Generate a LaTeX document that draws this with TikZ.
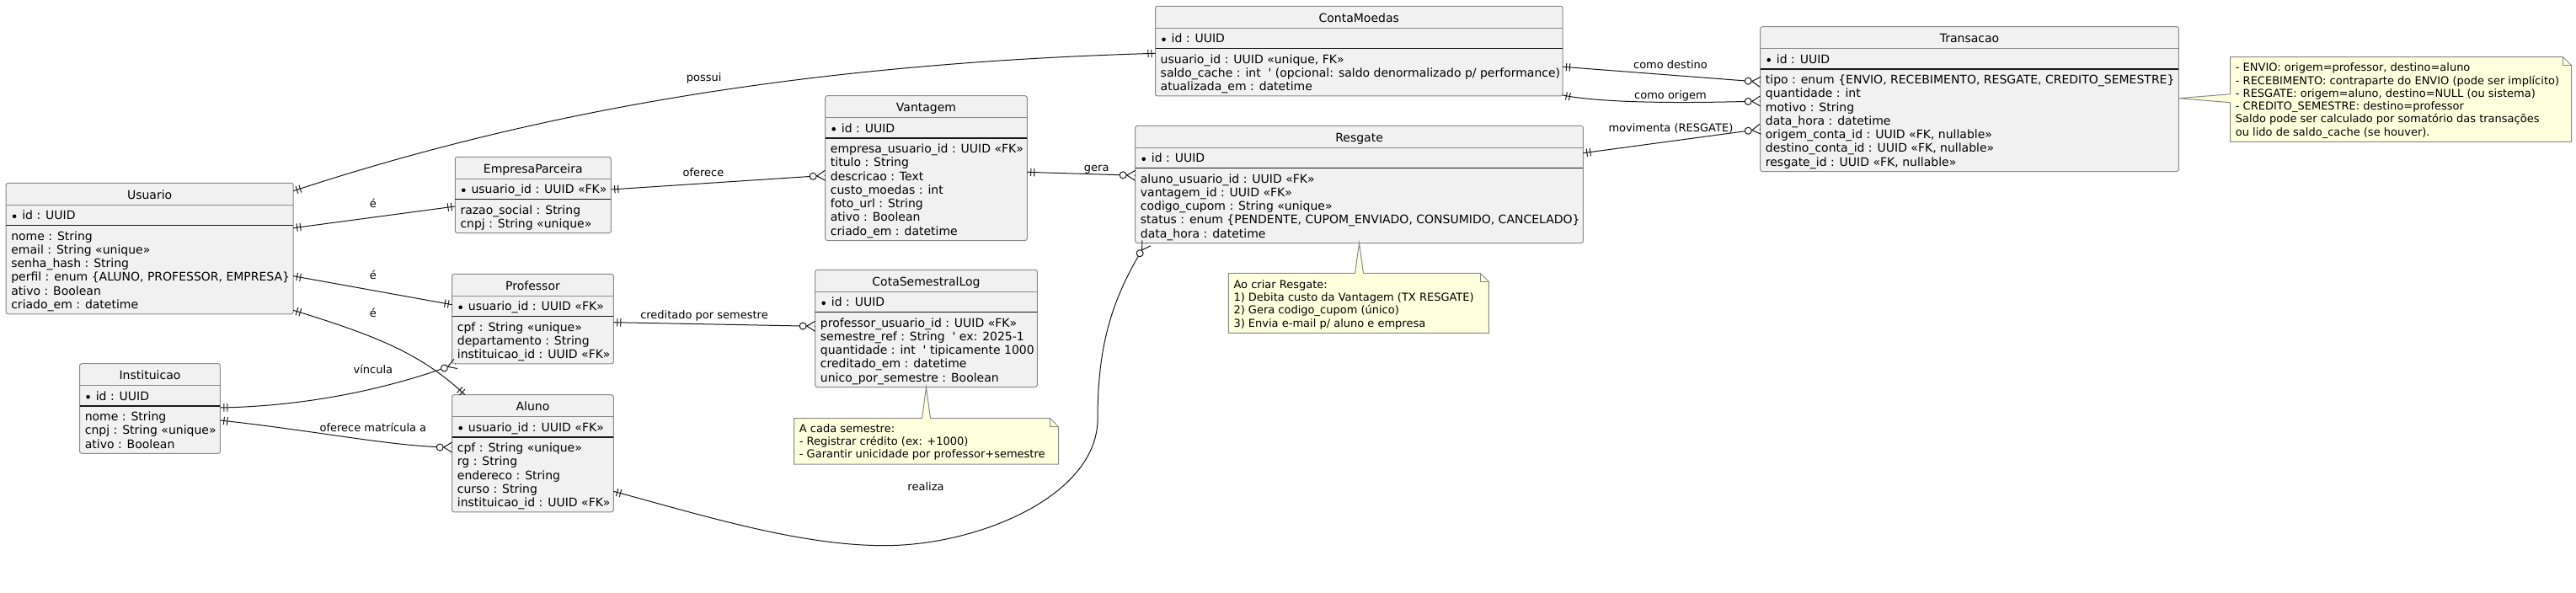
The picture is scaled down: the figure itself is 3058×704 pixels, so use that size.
\documentclass[tikz,border=0pt]{standalone}
\usepackage{fontspec}
\setmainfont{DejaVu Sans}[Ligatures=TeXOff]
\usetikzlibrary{decorations.markings}
\definecolor{entfill}{HTML}{F1F1F1}
\definecolor{entline}{HTML}{8A8A8A}
\definecolor{lc}{HTML}{181818}
\definecolor{notefill}{HTML}{FEFFDD}
\definecolor{noteline}{HTML}{8A8A8A}
\newcommand\entfont{\fontsize{14}{16.3}\selectfont}
\newcommand\notefont{\fontsize{13}{15.2}\selectfont}
\tikzset{
 entbox/.style={draw=entline, fill=entfill, line width=1pt, rounded corners=2.5pt, inner sep=0pt, outer sep=0pt},
 hdrline/.style={draw=entline, line width=1pt},
 sepline/.style={draw=lc, line width=1.3pt},
 etext/.style={font=\entfont, inner sep=0pt, text=black},
 ntext/.style={font=\notefont, inner sep=0pt, text=black, anchor=base west},
 lbl/.style={font=\notefont, inner sep=0pt, anchor=base, text=black},
 rel/.style={draw=lc, line width=1pt},
 notebox/.style={draw=noteline, fill=notefill, line width=1pt},
 ticksS/.style={postaction={decorate, decoration={markings, mark=at position 0 with {\draw[lc, line width=1pt] (4.5pt,-4.7pt)--(4.5pt,4.7pt) (8.5pt,-4.7pt)--(8.5pt,4.7pt);}}}},
 ticksE/.style={postaction={decorate, decoration={markings, mark=at position 0.99999 with {\draw[lc, line width=1pt] (-4.5pt,-4.7pt)--(-4.5pt,4.7pt) (-8.5pt,-4.7pt)--(-8.5pt,4.7pt);}}}},
 crowE/.style={postaction={decorate, decoration={markings, mark=at position 0.99999 with {\draw[white, line width=1.8pt] (-10pt,0pt)--(-1pt,0pt); \draw[lc, line width=1pt] (0pt,6pt)--(-10pt,0pt)--(0pt,-6pt); \draw[lc, line width=1pt, fill=white] (-14.5pt,0pt) circle (4pt);}}}},
}
% #1 name #2 left #3 top #4 right #5 n #6 title #7 id #8 attrs
\newcommand\entity[8]{%
 \pgfmathsetmacro\ew{#4-#2}%
 \pgfmathsetmacro\eh{57.7+16.3*#5}%
 \node[entbox, minimum width=\ew pt, minimum height=\eh pt, anchor=north west] (#1) at (#2,#3) {};
 \draw[hdrline] (#2,#3+25.8) -- (#4,#3+25.8);
 \draw[sepline] (#2,#3+50.3) -- (#4,#3+50.3);
 \node[etext, anchor=base] (#1-t) at ({(#2+#4)/2},{#3+18.7}) {#6};
 \fill[black] ({#2+10},{#3+39.5}) circle (2.3pt);
 \node[etext, anchor=base west] (#1-id) at ({#2+19},{#3+43.6}) {#7};
 \foreach \t [count=\i] in {#8} {\node[etext, anchor=base west] (#1-a\i) at ({#2+6},{#3+67.7+16.3*(\i-1)}) {\t};}
}
\begin{document}
\begin{tikzpicture}[x=1pt,y=-1pt]
\fill[white] (0,0) rectangle (3058,704);
\useasboundingbox (0,0) rectangle (3058,704);

\entity{us}{7.1}{217.3}{348.2}{6}{Usuario}{id : UUID}{nome : String, email : String «unique», senha\_hash : String, {perfil : enum \{ALUNO, PROFESSOR, EMPRESA\}}, ativo : Boolean, criado\_em : datetime}
\entity{in}{94.6}{431.7}{261.4}{3}{Instituicao}{id : UUID}{nome : String, cnpj : String «unique», ativo : Boolean}
\entity{ep}{540.3}{186.3}{725.3}{2}{EmpresaParceira}{usuario\_id : UUID «FK»}{razao\_social : String, cnpj : String «unique»}
\entity{pr}{536.7}{325.3}{728.3}{3}{Professor}{usuario\_id : UUID «FK»}{cpf : String «unique», departamento : String, instituicao\_id : UUID «FK»}
\entity{al}{536.7}{468.7}{728.3}{5}{Aluno}{usuario\_id : UUID «FK»}{cpf : String «unique», rg : String, endereco : String, curso : String, instituicao\_id : UUID «FK»}
\entity{va}{979.7}{113.7}{1219.3}{7}{Vantagem}{id : UUID}{empresa\_usuario\_id : UUID «FK», titulo : String, descricao : Text, custo\_moedas : int, foto\_url : String, ativo : Boolean, criado\_em : datetime}
\entity{cs}{967.7}{320.3}{1231.3}{5}{CotaSemestralLog}{id : UUID}{professor\_usuario\_id : UUID «FK», semestre\_ref : String\ \ ' ex: 2025-1, quantidade : int\ \ ' tipicamente 1000, creditado\_em : datetime, unico\_por\_semestre : Boolean}
\entity{cm}{1371.5}{7.3}{1855}{3}{ContaMoedas}{id : UUID}{{usuario\_id : UUID «unique, FK»}, {saldo\_cache : int\ \ ' (opcional: saldo denormalizado p/ performance)}, atualizada\_em : datetime}
\entity{rs}{1347.7}{149.3}{1879.4}{5}{Resgate}{id : UUID}{aluno\_usuario\_id : UUID «FK», vantagem\_id : UUID «FK», codigo\_cupom : String «unique», {status : enum \{PENDENTE, CUPOM\_ENVIADO, CONSUMIDO, CANCELADO\}}, data\_hora : datetime}
\entity{tr}{2089.7}{31.7}{2586.4}{7}{Transacao}{id : UUID}{{tipo : enum \{ENVIO, RECEBIMENTO, RESGATE, CREDITO\_SEMESTRE\}}, quantidade : int, motivo : String, data\_hora : datetime, {origem\_conta\_id : UUID «FK, nullable»}, {destino\_conta\_id : UUID «FK, nullable»}, {resgate\_id : UUID «FK, nullable»}}

% notes
\draw[notebox] (942.7,496.7) -- (1094.5,496.7) -- (cs.south) -- (1104.5,496.7) -- (1246.7,496.7) -- (1256.7,506.7) -- (1256.7,551) -- (942.7,551) -- cycle;
\draw[draw=noteline, line width=1pt] (1246.7,496.7) -- (1246.7,506.7) -- (1256.7,506.7);
\foreach \t [count=\i] in {A cada semestre:, - Registrar crédito (ex: +1000), - Garantir unicidade por professor+semestre}
 {\node[ntext] (n1-\i) at (948.7,{513+15.2*(\i-1)}) {\t};}

\draw[notebox] (1458.3,324.3) -- (1608.5,324.3) -- (rs.south) -- (1618.5,324.3) -- (1757.3,324.3) -- (1767.3,334.3) -- (1767.3,395.3) -- (1458.3,395.3) -- cycle;
\draw[draw=noteline, line width=1pt] (1757.3,324.3) -- (1757.3,334.3) -- (1767.3,334.3);
\foreach \t [count=\i] in {Ao criar Resgate:, 1) Debita custo da Vantagem (TX RESGATE), 2) Gera codigo\_cupom (único), 3) Envia e-mail p/ aluno e empresa}
 {\node[ntext] (n2-\i) at (1464.3,{342.4+15.2*(\i-1)}) {\t};}

\draw[notebox] (2647.7,67.7) -- (3042.7,67.7) -- (3052.7,77.7) -- (3052.7,168.3) -- (2647.7,168.3) -- (2647.7,121.7) -- (tr.east |- 0,116.7) -- (2647.7,111.7) -- cycle;
\draw[draw=noteline, line width=1pt] (3042.7,67.7) -- (3042.7,77.7) -- (3052.7,77.7);
\foreach \t [count=\i] in {{- ENVIO: origem=professor, destino=aluno}, - RECEBIMENTO: contraparte do ENVIO (pode ser implícito), {- RESGATE: origem=aluno, destino=NULL (ou sistema)}, - CREDITO\_SEMESTRE: destino=professor, Saldo pode ser calculado por somatório das transações, ou lido de saldo\_cache (se houver).}
 {\node[ntext] (n3-\i) at (2653.7,{84.7+15.3*(\i-1)}) {\t};}

% connectors
\draw[rel, ticksS, ticksE] (us.east |- 0,226.7) .. controls (648,128) and (972,75) .. (cm.west |- 0,63.3);
\draw[rel, ticksS, ticksE] (us.east |- 0,270.7) -- (ep.west |- 0,245);
\draw[rel, ticksS, ticksE] (us.east |- 0,327.7) -- (pr.west |- 0,361.7);
\draw[rel, ticksS, ticksE] (us.east |- 0,368.3) .. controls (448,399) and (500,420) .. (552,0 |- al.north);
\draw[rel, ticksS, crowE] (in.east |- 0,484) .. controls (380,482) and (480,455) .. (541,0 |- pr.south);
\draw[rel, ticksS, crowE] (in.east |- 0,499) .. controls (380,512) and (470,531) .. (al.west |- 0,531);
\draw[rel, ticksS, crowE] (ep.east |- 0,225) -- (va.west |- 0,208.3);
\draw[rel, ticksS, crowE] (pr.east |- 0,382.7) -- (cs.west |- 0,387.3);
\draw[rel, ticksS, crowE] (va.east |- 0,204.3) -- (rs.west |- 0,208.3);
\draw[rel, ticksS, crowE] (al.east |- 0,583.3) .. controls (838,613) and (950,647.7) .. (1050,647.7) .. controls (1160,647.7) and (1300,590) .. (1303,500) .. controls (1303,420) and (1315,360) .. (1361,0 |- rs.south);
\draw[rel, ticksS, crowE] (cm.east |- 0,79.3) -- (tr.west |- 0,97.3);
\draw[rel, ticksS, crowE] (cm.east |- 0,113) .. controls (1900,122) and (1990,123) .. (tr.west |- 0,120);
\draw[rel, ticksS, crowE] (rs.east |- 0,181.7) -- (tr.west |- 0,153.3);

% labels
\node[lbl] (l-possui) at (835.6,96.4) {possui};
\node[lbl] (l-e1) at (442.9,246.4) {é};
\node[lbl] (l-e2) at (442.9,331.4) {é};
\node[lbl] (l-e3) at (442.9,376.4) {é};
\node[lbl] (l-vin) at (442.9,443) {víncula};
\node[lbl] (l-ofm) at (442.9,512) {oferece matrícula a};
\node[lbl] (l-of) at (835,209.7) {oferece};
\node[lbl] (l-cred) at (836,378.7) {creditado por semestre};
\node[lbl] (l-gera) at (1301.7,203) {gera};
\node[lbl] (l-real) at (1099,582.4) {realiza};
\node[lbl] (l-dest) at (1983,81.4) {como destino};
\node[lbl] (l-orig) at (1983,117.4) {como origem};
\node[lbl] (l-mov) at (1983.4,156.4) {movimenta (RESGATE)};
\end{tikzpicture}
\end{document}
